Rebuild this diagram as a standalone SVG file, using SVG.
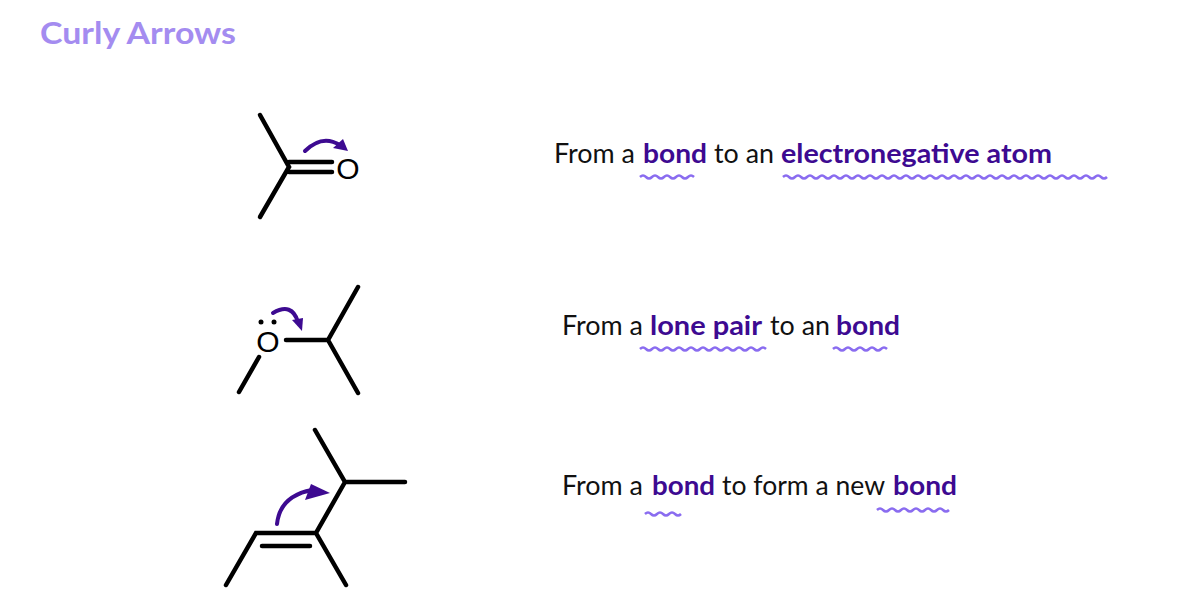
<svg xmlns="http://www.w3.org/2000/svg" width="1198" height="600" viewBox="0 0 1198 600">
<style>
.b{stroke:#000;stroke-width:4.5;stroke-linecap:round;fill:none}
.a{stroke:#3d0a91;stroke-width:4;fill:none;stroke-linecap:round}
.h{fill:#3d0a91}
.t{font-family:Lato,"Liberation Sans",sans-serif;font-size:27px;fill:#111}
.k{font-weight:bold;fill:#3d0a91}
.w{stroke:#8a6cf0;stroke-width:2.5;fill:none}
.at{font-family:"Liberation Sans",Arial,sans-serif;font-size:30px;fill:#000}
</style>
<rect width="1198" height="600" fill="#fff"/>
<text x="40" y="44" font-family="Lato,'Liberation Sans',sans-serif" font-size="31" font-weight="bold" fill="#a48cf0" textLength="196" lengthAdjust="spacingAndGlyphs">Curly Arrows</text>
<g id="mol1">
<path class="b" d="M260,115 L289,167 L260,217 M289,162 L332,162 M289,172 L332,172"/>
<text class="at" x="348" y="179" text-anchor="middle">O</text>
<path class="a" d="M305,151 Q322,134 340,145"/>
<path class="h" d="M348,151 L333,148 L343,139 Z"/>
</g>
<g id="mol2">
<path class="b" d="M286,340 L328,340 L358,287 M328,340 L358,393 M259,357 L239,392"/>
<text class="at" x="268" y="352" text-anchor="middle">O</text>
<circle cx="261" cy="322" r="2.5"/><circle cx="274" cy="322" r="2.5"/>
<path class="a" d="M273,313 Q292,302 298,322"/>
<path class="h" d="M302,331 L292,320 L303,318 Z"/>
</g>
<g id="mol3">
<path class="b" d="M315,430 L345,482 L405,482 M345,482 L316,533 L346,585 M316,533 L256,533 L226,585 M262,546 L310,546"/>
<path class="a" d="M277,524 Q280,496 312,490"/>
<path class="h" d="M330,493 L305,500 L311,484 Z"/>
</g>
<g id="labels">
<text class="t" y="163"><tspan x="554" textLength="81" lengthAdjust="spacingAndGlyphs">From a</tspan><tspan class="k" x="643" textLength="64" lengthAdjust="spacingAndGlyphs">bond</tspan><tspan x="714" textLength="60" lengthAdjust="spacingAndGlyphs">to an</tspan><tspan class="k" x="781" textLength="271" lengthAdjust="spacingAndGlyphs">electronegative atom</tspan></text>
<text class="t" y="335"><tspan x="562" textLength="81" lengthAdjust="spacingAndGlyphs">From a</tspan><tspan class="k" x="650" textLength="112" lengthAdjust="spacingAndGlyphs">lone pair</tspan><tspan x="770" textLength="60" lengthAdjust="spacingAndGlyphs">to an</tspan><tspan class="k" x="836" textLength="64" lengthAdjust="spacingAndGlyphs">bond</tspan></text>
<text class="t" y="495"><tspan x="562" textLength="81" lengthAdjust="spacingAndGlyphs">From a</tspan><tspan class="k" x="652" textLength="63" lengthAdjust="spacingAndGlyphs">bond</tspan><tspan x="722" textLength="163" lengthAdjust="spacingAndGlyphs">to form a new</tspan><tspan class="k" x="893" textLength="64" lengthAdjust="spacingAndGlyphs">bond</tspan></text>
</g>
<g id="connectors">
<path class="w" d="M640,177 q3,-3 6,0 t6,0 t6,0 t6,0 t6,0 t6,0 t6,0 t6,0 t6,0"/>
<path class="w" d="M783,177 q3,-3 6,0 t6,0 t6,0 t6,0 t6,0 t6,0 t6,0 t6,0 t6,0 t6,0 t6,0 t6,0 t6,0 t6,0 t6,0 t6,0 t6,0 t6,0 t6,0 t6,0 t6,0 t6,0 t6,0 t6,0 t6,0 t6,0 t6,0 t6,0 t6,0 t6,0 t6,0 t6,0 t6,0 t6,0 t6,0 t6,0 t6,0 t6,0 t6,0 t6,0 t6,0 t6,0 t6,0 t6,0 t6,0 t6,0 t6,0 t6,0 t6,0 t6,0 t6,0 t6,0 t6,0 t6,0"/>
<path class="w" d="M640,349 q3,-3 6,0 t6,0 t6,0 t6,0 t6,0 t6,0 t6,0 t6,0 t6,0 t6,0 t6,0 t6,0 t6,0 t6,0 t6,0 t6,0 t6,0 t6,0 t6,0 t6,0 t6,0"/>
<path class="w" d="M833,349 q3,-3 6,0 t6,0 t6,0 t6,0 t6,0 t6,0 t6,0 t6,0 t6,0"/>
<path class="w" d="M645,514 q3,-3 6,0 t6,0 t6,0 t6,0 t6,0 t6,0"/>
<path class="w" d="M877,510 q3,-3 6,0 t6,0 t6,0 t6,0 t6,0 t6,0 t6,0 t6,0 t6,0 t6,0 t6,0 t6,0"/>
</g>
</svg>
